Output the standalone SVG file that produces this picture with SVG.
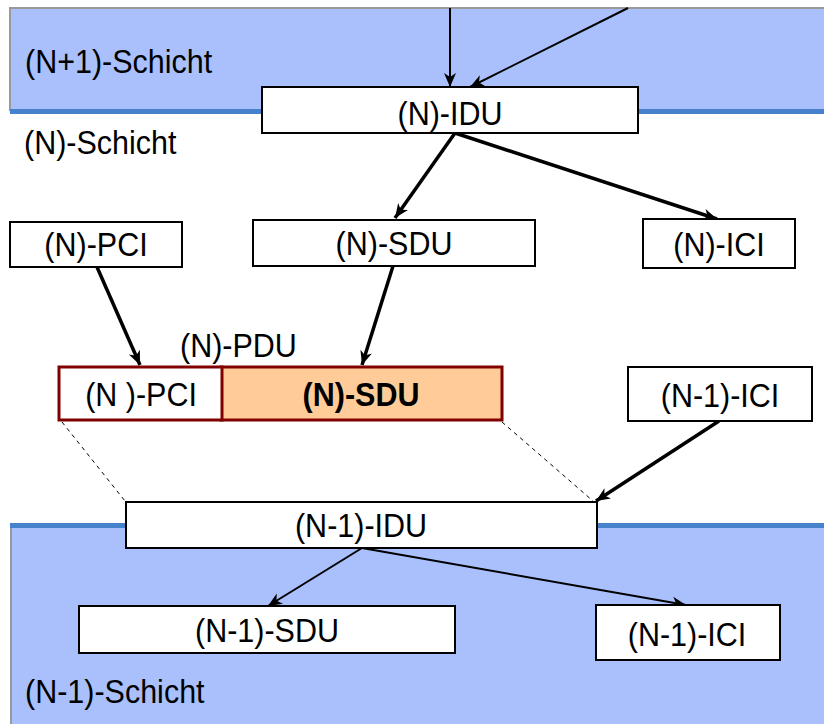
<svg xmlns="http://www.w3.org/2000/svg" width="824" height="724" viewBox="0 0 824 724">
<style>
.t{font-family:"Liberation Sans",Arial,sans-serif;font-size:30.5px;fill:#000}
.c{text-anchor:middle}
.b{font-weight:bold}
.box{fill:#fff;stroke:#000;stroke-width:2}
.pdu{stroke:#800000;stroke-width:3}
.thin{stroke:#000;stroke-width:2;fill:none}
.thick{stroke:#000;stroke-width:3.5;fill:none}
.dash{stroke:#000;stroke-width:1;stroke-dasharray:4 4;fill:none}
</style>
<defs>
<marker id="a" markerUnits="userSpaceOnUse" markerWidth="16" markerHeight="16" refX="14" refY="7" orient="auto">
<path d="M0,1 L14,7 L0,13 L4,7 Z" fill="#000"/>
</marker>
</defs>
<rect width="824" height="724" fill="#fff"/>
<g id="layer-n-plus-1">
<rect x="10" y="8" width="814" height="103" fill="#a9c0fc"/>
<path d="M10,111 V8 H824" fill="none" stroke="#999" stroke-width="2"/>
<rect x="10" y="109" width="814" height="5" fill="#4682cc"/>
<text class="t" transform="translate(25 73) scale(1 1.1)">(N+1)-Schicht</text>
</g>
<g id="layer-n">
<text class="t" transform="translate(24 154) scale(1 1.1)">(N)-Schicht</text>
</g>
<g id="layer-n-minus-1">
<rect x="10" y="524" width="814" height="200" fill="#a9c0fc"/>
<path d="M11,526 V724" stroke="#999" stroke-width="2"/>
<rect x="10" y="523" width="814" height="5" fill="#4682cc"/>
<text class="t" transform="translate(25 703) scale(1 1.1)">(N-1)-Schicht</text>
</g>
<g id="connectors">
<line class="thin" x1="450" y1="8" x2="450" y2="87" marker-end="url(#a)"/>
<line class="thin" x1="628" y1="8" x2="470" y2="87" marker-end="url(#a)"/>
<line class="thick" x1="455" y1="133" x2="395" y2="218" marker-end="url(#a)"/>
<line class="thick" x1="455" y1="133" x2="717" y2="219" marker-end="url(#a)"/>
<line class="thick" x1="97" y1="267" x2="140" y2="365" marker-end="url(#a)"/>
<line class="thick" x1="393" y1="266" x2="362" y2="365" marker-end="url(#a)"/>
<line class="thick" x1="719" y1="421" x2="596" y2="501" marker-end="url(#a)"/>
<line class="dash" x1="62" y1="422" x2="125" y2="501"/>
<line class="dash" x1="502" y1="422" x2="593" y2="501"/>
<line class="thin" x1="362" y1="548" x2="268" y2="606" marker-end="url(#a)"/>
<line class="thin" x1="362" y1="548" x2="686" y2="605" marker-end="url(#a)"/>
</g>
<g id="n-idu">
<rect class="box" x="262" y="87" width="376" height="46"/>
<text class="t c" transform="translate(450 125) scale(1 1.1)">(N)-IDU</text>
</g>
<g id="n-pci">
<rect class="box" x="10" y="222" width="172" height="45"/>
<text class="t c" transform="translate(96 256) scale(1 1.1)">(N)-PCI</text>
</g>
<g id="n-sdu">
<rect class="box" x="253" y="220" width="282" height="46"/>
<text class="t c" transform="translate(394 255) scale(1 1.1)">(N)-SDU</text>
</g>
<g id="n-ici">
<rect class="box" x="643" y="219" width="152" height="49"/>
<text class="t c" transform="translate(719 256) scale(1 1.1)">(N)-ICI</text>
</g>
<g id="n-pdu">
<text class="t" transform="translate(180 357) scale(1 1.1)">(N)-PDU</text>
<rect class="pdu" x="221" y="367" width="281" height="53" fill="#ffcc99"/>
<rect class="pdu" x="59" y="367" width="163" height="53" fill="#fff"/>
<text class="t c" transform="translate(141 406) scale(1 1.1)">(N )-PCI</text>
<text class="t c b" transform="translate(361 406) scale(1 1.1)">(N)-SDU</text>
</g>
<g id="n-1-ici-top">
<rect class="box" x="628" y="367" width="184" height="54"/>
<text class="t c" transform="translate(720 407) scale(1 1.1)">(N-1)-ICI</text>
</g>
<g id="n-1-idu">
<rect class="box" x="126" y="502" width="471" height="46"/>
<text class="t c" transform="translate(361 537) scale(1 1.1)">(N-1)-IDU</text>
</g>
<g id="n-1-sdu">
<rect class="box" x="79" y="606" width="376" height="47"/>
<text class="t c" transform="translate(267 642) scale(1 1.1)">(N-1)-SDU</text>
</g>
<g id="n-1-ici-bottom">
<rect class="box" x="596" y="605" width="184" height="55"/>
<text class="t c" transform="translate(687 646) scale(1 1.1)">(N-1)-ICI</text>
</g>
</svg>
